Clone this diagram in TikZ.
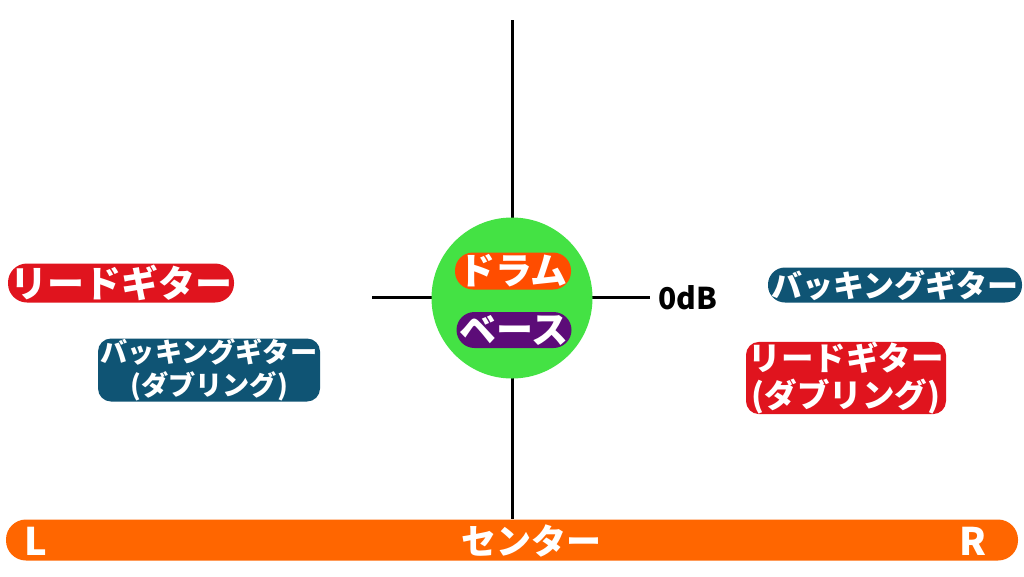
\documentclass[tikz,border=0pt]{standalone}
\usepackage{fontspec}
\newfontfamily\cjk{Noto Sans CJK JP}
\definecolor{cred}{HTML}{E0141E}
\definecolor{cteal}{HTML}{0F5474}
\definecolor{cgreen}{HTML}{44E244}
\definecolor{corange}{HTML}{FF6600}
\definecolor{cdrum}{HTML}{FF4D00}
\definecolor{cpurple}{HTML}{5C0C78}
\tikzset{
  pill/.style={rounded corners=#1, text=white, inner sep=0pt, align=center, font=\cjk\bfseries},
  axis/.style={line width=3pt, black},
}
\begin{document}
\begin{tikzpicture}[x=1pt,y=-1pt]
\useasboundingbox[fill=white] (0,0) rectangle (1024,576);
% axes
\coordinate (vtop) at (512,20);
\coordinate (hl) at (372,297);
\coordinate (hr) at (650,297);
\node[fill=corange, rounded corners=20pt, minimum width=1012pt, minimum height=41pt, inner sep=0pt] (bar) at (512,540) {};
\draw[axis] (vtop) -- (bar.north -| vtop);
\draw[axis] (hl) -- (hr);
\node[circle, fill=cgreen, minimum size=161pt, inner sep=0pt] (circ) at (512,298) {};
\node[font=\cjk\bfseries\fontsize{30}{30}\selectfont, anchor=west] (db) at (655,298) {0dB};
% center pills
\node[pill=18pt, fill=cdrum, minimum width=116pt, minimum height=37pt, font=\cjk\bfseries\fontsize{37}{37}\selectfont] (drum) at (513,271) {ドラム};
\node[pill=18pt, fill=cpurple, minimum width=115pt, minimum height=36pt, font=\cjk\bfseries\fontsize{37}{37}\selectfont] (bass) at (514,330) {ベース};
% left
\node[pill=19pt, fill=cred, minimum width=226pt, minimum height=39pt, font=\cjk\bfseries\fontsize{37}{37}\selectfont] (lead) at (121,283) {リードギター};
\node[pill=13pt, fill=cteal, minimum width=222pt, minimum height=63pt, font=\cjk\bfseries\fontsize{27.2}{33}\selectfont] (backd) at (209,370) {バッキングギター\\(ダブリング)};
% right
\node[pill=17pt, fill=cteal, minimum width=254pt, minimum height=35pt, font=\cjk\bfseries\fontsize{31}{31}\selectfont] (back) at (895,285) {バッキングギター};
\node[pill=13pt, fill=cred, minimum width=200pt, minimum height=71pt, font=\cjk\bfseries\fontsize{32.5}{37}\selectfont] (leadd) at (846,378) {リードギター\\(ダブリング)};
% bar labels
\node[text=white, font=\cjk\bfseries\fontsize{38}{38}\selectfont] (L) at (36,541) {L};
\node[text=white, font=\cjk\bfseries\fontsize{38}{38}\selectfont] (R) at (973,541) {R};
\node[text=white, font=\cjk\bfseries\fontsize{35}{35}\selectfont] (center) at (531,541) {センター};
\end{tikzpicture}
\end{document}
